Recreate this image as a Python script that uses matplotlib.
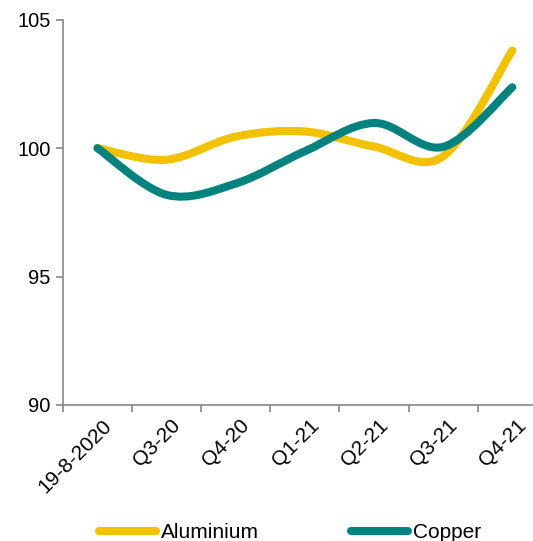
import matplotlib
matplotlib.use("Agg")
import matplotlib.pyplot as plt
import numpy as np
from matplotlib.path import Path
from matplotlib.patches import PathPatch

plt.rcParams['font.family'] = ['Liberation Sans', 'DejaVu Sans']

# data
categories = ["19-8-2020", "Q3-20", "Q4-20", "Q1-21", "Q2-21", "Q3-21", "Q4-21"]
aluminium = [100.0, 99.55, 100.45, 100.65, 100.06, 99.68, 103.8]
copper = [100.0, 98.18, 98.62, 99.88, 100.98, 100.05, 102.37]

col_alu = "#F2C100"
col_cu = "#00827F"
axis_col = "#868686"


def smooth_path(xs, ys):
    # excel-like smoothed line: catmull-rom as cubic bezier segments
    pts = np.column_stack([xs, ys]).astype(float)
    n = len(pts)
    verts = [pts[0]]
    codes = [Path.MOVETO]
    for i in range(n - 1):
        p0 = pts[i - 1] if i > 0 else pts[i]
        p1 = pts[i]
        p2 = pts[i + 1]
        p3 = pts[i + 2] if i + 2 < n else pts[i + 1]
        c1 = p1 + (p2 - p0) / 6.0
        c2 = p2 - (p3 - p1) / 6.0
        verts += [c1, c2, p2]
        codes += [Path.CURVE4] * 3
    return Path(verts, codes)


fig = plt.figure(figsize=(5.33, 5.41), dpi=100)
ax = fig.add_axes([0.118, 0.2515, 0.908, 0.712])

x = np.arange(len(categories))
lw = 5.8
for vals, c in [(aluminium, col_alu), (copper, col_cu)]:
    patch = PathPatch(smooth_path(x, vals), facecolor="none", edgecolor=c,
                      linewidth=lw, capstyle="round", joinstyle="round")
    ax.add_patch(patch)

ax.set_xlim(-0.5, len(categories) - 0.5)
ax.set_ylim(90, 105)
ax.set_yticks([90, 95, 100, 105])
ax.tick_params(axis="y", labelsize=14.5, length=5, color=axis_col, width=1.2, pad=4)

ax.set_xticks(x + 0.06)
ax.set_xticklabels(categories, rotation=45, ha="right", rotation_mode="anchor", fontsize=15)
ax.set_xticks(np.arange(len(categories) + 1) - 0.5, minor=True)
ax.tick_params(axis="x", which="major", length=0, pad=8)
ax.tick_params(axis="x", which="minor", length=5, color=axis_col, width=1.2)

for s in ["top", "right"]:
    ax.spines[s].set_visible(False)
for s in ["left", "bottom"]:
    ax.spines[s].set_color(axis_col)
    ax.spines[s].set_linewidth(1.2)

# legend
h1, = ax.plot([], [], color=col_alu, lw=lw, solid_capstyle="round", label="Aluminium")
h2, = ax.plot([], [], color=col_cu, lw=lw, solid_capstyle="round", label="Copper")
fig.legend(handles=[h1, h2], loc="center", bbox_to_anchor=(0.544, 0.016), ncol=2,
           frameon=False, fontsize=15, handlelength=2.75, handletextpad=0.25,
           columnspacing=4.4, borderpad=0)

plt.savefig("out.png", dpi=100)
